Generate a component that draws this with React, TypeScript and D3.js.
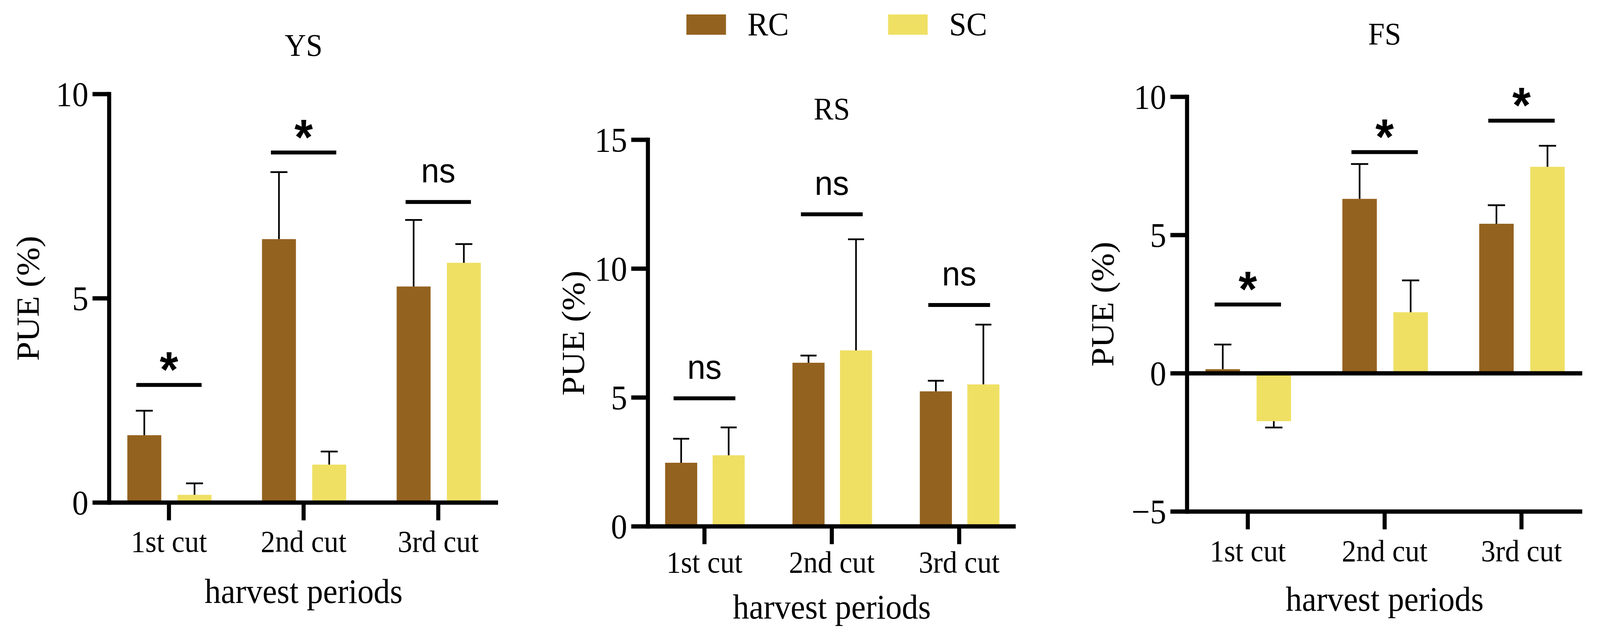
import React from 'react';
import * as d3 from 'd3';

const categories = ['1st cut', '2nd cut', '3rd cut'];
const seriesNames = ['RC', 'SC'];
const seriesColors = ['#94621F', '#EFE064'];

// YS panel
const ysRC = [1.65, 6.45, 5.29];
const ysRCErr = [0.6, 1.64, 1.63];
const ysSC = [0.19, 0.93, 5.87];
const ysSCErr = [0.28, 0.32, 0.46];
const ysSigY = [2.88, 8.57, 7.36];
const ysSigLabel = ['*', '*', 'ns'];
const ysTicks = [0, 5, 10];

// RS panel
const rsRC = [2.47, 6.35, 5.24];
const rsRCErr = [0.93, 0.28, 0.41];
const rsSC = [2.76, 6.83, 5.51];
const rsSCErr = [1.08, 4.31, 2.32];
const rsSigY = [4.97, 12.11, 8.59];
const rsSigLabel = ['ns', 'ns', 'ns'];
const rsTicks = [0, 5, 10, 15];

// FS panel
const fsRC = [0.15, 6.31, 5.41];
const fsRCErr = [0.89, 1.26, 0.67];
const fsSC = [-1.73, 2.21, 7.47];
const fsSCErr = [0.23, 1.15, 0.76];
const fsSigY = [2.49, 8.0, 9.14];
const fsSigLabel = ['*', '*', '*'];
const fsTicks = [-5, 0, 5, 10];

const yLabel = 'PUE (%)';
const xLabel = 'harvest periods';

const SERIF = '"Liberation Serif", "Times New Roman", serif';
const SANS = '"Liberation Sans", Arial, sans-serif';

const panels = [
  {
    title: 'YS', rc: ysRC, rcErr: ysRCErr, sc: ysSC, scErr: ysSCErr, sigY: ysSigY, sigLabel: ysSigLabel, ticks: ysTicks,
    axisX: 295, endX: 1346, bottom: 1287, top: 241, titleY: 143, tickLabelY: 1413, xLabelY: 1544, yLabelX: 104,
  },
  {
    title: 'RS', rc: rsRC, rcErr: rsRCErr, sc: rsSC, scErr: rsSCErr, sigY: rsSigY, sigLabel: rsSigLabel, ticks: rsTicks,
    axisX: 1751, endX: 2745, bottom: 1348, top: 358, titleY: 306, tickLabelY: 1466, xLabelY: 1584, yLabelX: 1578,
  },
  {
    title: 'FS', rc: fsRC, rcErr: fsRCErr, sc: fsSC, scErr: fsSCErr, sigY: fsSigY, sigLabel: fsSigLabel, ticks: fsTicks,
    axisX: 3208, endX: 4276, bottom: 1310, top: 248, titleY: 114, tickLabelY: 1437, xLabelY: 1564, yLabelX: 3009,
  },
];

const AXW = 11;
const TICK = 45;

function Panel({ p }: { p: any }) {
  const x = d3.scalePoint<string>().domain(categories).range([p.axisX, p.endX]).padding(0.444);
  const step = x.step();
  const ext = d3.extent(p.ticks as number[]) as [number, number];
  const y = d3.scaleLinear().domain(ext).range([p.bottom, p.top]);
  const bw = step * 0.252;
  const offs = [-0.183 * step, 0.19 * step];
  const series = [
    { vals: p.rc, errs: p.rcErr },
    { vals: p.sc, errs: p.scErr },
  ];
  const cx = (p.axisX + p.endX) / 2;
  const yMin = ext[0];
  const fmt = (t: number) => (t < 0 ? '\u2212' + Math.abs(t) : String(t));

  return (
    <g>
      {/* bars */}
      {series.map((s, si) =>
        categories.map((c, ci) => {
          const v = s.vals[ci];
          const xc = (x(c) as number) + offs[si];
          return (
            <rect
              key={`b${si}${ci}`}
              x={xc - bw / 2}
              width={bw}
              y={y(Math.max(v, 0))}
              height={Math.abs(y(v) - y(0))}
              fill={seriesColors[si]}
            />
          );
        })
      )}
      {/* error bars */}
      {series.map((s, si) =>
        categories.map((c, ci) => {
          const v = s.vals[ci];
          const e = s.errs[ci];
          const end = v + (v < 0 ? -e : e);
          const xc = (x(c) as number) + offs[si];
          return (
            <g key={`e${si}${ci}`} stroke="#000" strokeWidth={4.5}>
              <line x1={xc} x2={xc} y1={y(v)} y2={y(end)} />
              <line x1={xc - bw / 4} x2={xc + bw / 4} y1={y(end)} y2={y(end)} />
            </g>
          );
        })
      )}
      {/* y axis */}
      <line x1={p.axisX} x2={p.axisX} y1={y(ext[1]) - AXW / 2} y2={y(yMin) + AXW / 2} stroke="#000" strokeWidth={AXW} />
      {(p.ticks as number[]).map((t) => (
        <g key={`yt${t}`}>
          <line x1={p.axisX - TICK} x2={t === 0 || t === yMin ? p.endX : p.axisX} y1={y(t)} y2={y(t)} stroke="#000" strokeWidth={AXW} />
          <text x={p.axisX - TICK - 11} y={y(t) + 30} textAnchor="end" fontFamily={SERIF} fontSize={88} fill="#000">
            {fmt(t)}
          </text>
        </g>
      ))}
      {/* x ticks */}
      {categories.map((c) => (
        <g key={`xt${c}`}>
          <line x1={x(c)} x2={x(c)} y1={y(yMin)} y2={y(yMin) + AXW / 2 + 40} stroke="#000" strokeWidth={AXW} />
          <text x={x(c)} y={p.tickLabelY} textAnchor="middle" fontFamily={SERIF} fontSize={78} fill="#000">
            {c}
          </text>
        </g>
      ))}
      {/* significance */}
      {categories.map((c, ci) => {
        const xc = x(c) as number;
        const yy = y(p.sigY[ci]);
        const lab = p.sigLabel[ci];
        return (
          <g key={`s${ci}`}>
            <line x1={xc - 0.2425 * step} x2={xc + 0.2425 * step} y1={yy} y2={yy} stroke="#000" strokeWidth={10} />
            {lab === '*' ? (
              <text x={xc} y={yy + 4} textAnchor="middle" fontFamily={SANS} fontWeight="bold" fontSize={128} fill="#000">
                *
              </text>
            ) : (
              <text x={xc} y={yy - 50} textAnchor="middle" fontFamily={SANS} fontSize={88} fill="#000">
                {lab}
              </text>
            )}
          </g>
        );
      })}
      {/* title */}
      <text x={cx} y={p.titleY} textAnchor="middle" fontFamily={SERIF} fontSize={80} fill="#000">
        {p.title}
      </text>
      {/* x label */}
      <text x={cx} y={p.xLabelY} textAnchor="middle" fontFamily={SERIF} fontSize={88} fill="#000">
        {xLabel}
      </text>
      {/* y label */}
      <text
        transform={`translate(${p.yLabelX},${(y(ext[0]) + y(ext[1])) / 2}) rotate(-90)`}
        textAnchor="middle"
        fontFamily={SERIF}
        fontSize={88}
        fill="#000"
      >
        {yLabel}
      </text>
    </g>
  );
}

const legendX = [1855, 2400];

export default function App() {
  return (
    <svg
      viewBox="0 0 4324 1644"
      preserveAspectRatio="none"
      style={{ position: 'fixed', left: 0, top: 0, width: '100vw', height: '100vh', background: '#fff', display: 'block' }}
    >
      <rect x={0} y={0} width={4324} height={1644} fill="#fff" />
      {seriesNames.map((n, i) => (
        <g key={n}>
          <rect x={legendX[i]} y={37} width={107} height={52} fill={seriesColors[i]} />
          <text x={legendX[i] + 107 + 58} y={91} fontFamily={SERIF} fontSize={84} fill="#000">
            {n}
          </text>
        </g>
      ))}
      {panels.map((p) => (
        <Panel key={p.title} p={p} />
      ))}
    </svg>
  );
}
